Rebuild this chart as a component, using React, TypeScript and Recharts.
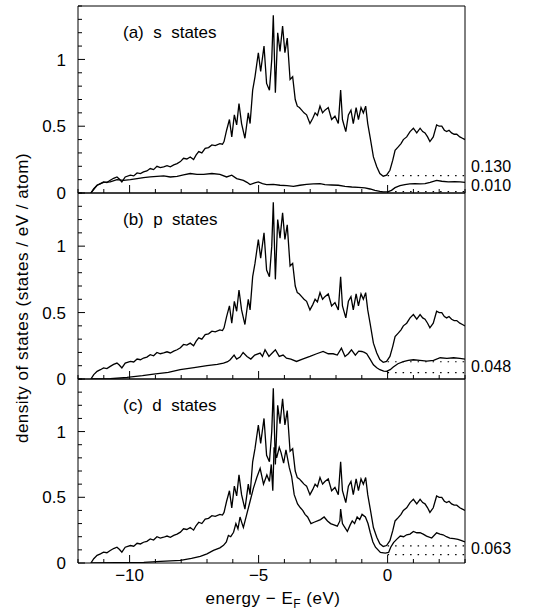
import React from 'react';
import { LineChart, Line, XAxis, YAxis, ReferenceLine } from 'recharts';

// total DOS (same curve in all three panels)
const totalE = [
  -11.5, -11.39, -11.26, -11.13, -11.01, -10.88, -10.75, -10.62, -10.49, -10.4, -10.3, -10.17, -9.97, -9.84,
  -9.71, -9.58, -9.46, -9.33, -9.2, -9.07, -8.94, -8.81, -8.68, -8.55, -8.42, -8.29, -8.16, -8.03, -7.91,
  -7.78, -7.65, -7.52, -7.42, -7.32, -7.2, -7.07, -6.94, -6.81, -6.68, -6.5, -6.4, -6.34, -6.24, -6.13,
  -6.04, -5.94, -5.85, -5.76, -5.66, -5.53, -5.4, -5.33, -5.23, -5.14, -5.01, -4.92, -4.79, -4.69, -4.58,
  -4.49, -4.43, -4.35, -4.26, -4.17, -4.07, -3.98, -3.89, -3.78, -3.68, -3.58, -3.5, -3.42, -3.33, -3.24,
  -3.14, -3.01, -2.9, -2.81, -2.72, -2.62, -2.52, -2.43, -2.3, -2.17, -2.04, -1.91, -1.82, -1.75, -1.62,
  -1.52, -1.42, -1.33, -1.22, -1.13, -1.03, -0.94, -0.85, -0.77, -0.68, -0.55, -0.42, -0.3, -0.17, -0.04,
  0.09, 0.2, 0.29, 0.42, 0.52, 0.61, 0.74, 0.87, 1.0, 1.13, 1.26, 1.36, 1.45, 1.55, 1.64, 1.77, 1.9, 2.0,
  2.1, 2.2, 2.29, 2.38, 2.48, 2.58, 2.68, 2.8, 2.9, 3.0,
];
const totalV = [
  0, 0.033, 0.058, 0.07, 0.083, 0.078, 0.095, 0.11, 0.12, 0.105, 0.083, 0.12, 0.133, 0.128,
  0.15, 0.145, 0.158, 0.165, 0.183, 0.175, 0.2, 0.19, 0.196, 0.205, 0.196, 0.21, 0.22, 0.235, 0.26,
  0.255, 0.27, 0.25, 0.285, 0.31, 0.3, 0.334, 0.34, 0.36, 0.355, 0.37, 0.365, 0.385, 0.47, 0.55,
  0.42, 0.585, 0.51, 0.67, 0.52, 0.41, 0.6, 0.52, 0.77, 0.87, 1.05, 0.91, 1.1, 0.82, 0.77,
  1.0, 1.33, 0.75, 1.2, 1.06, 1.25, 1.05, 1.16, 0.85, 0.87, 0.7, 0.65, 0.64, 0.62, 0.6,
  0.585, 0.52, 0.56, 0.6, 0.58, 0.65, 0.6, 0.62, 0.64, 0.55, 0.575, 0.52, 0.77, 0.55, 0.46,
  0.585, 0.62, 0.52, 0.64, 0.55, 0.64, 0.6, 0.65, 0.52, 0.42, 0.27, 0.196, 0.146, 0.126, 0.133,
  0.17, 0.246, 0.32, 0.347, 0.37, 0.4, 0.42, 0.46, 0.485, 0.45, 0.485, 0.46, 0.45, 0.42, 0.385, 0.42, 0.51, 0.5,
  0.5, 0.47, 0.46, 0.47, 0.45, 0.44, 0.44, 0.42, 0.41, 0.4,
];

// s projected DOS
const sE = [
  -11.5, -11.26, -11.01, -10.75, -10.49, -10.23, -9.97, -9.71, -9.46, -9.2, -8.94, -8.68, -8.42, -8.16,
  -7.91, -7.65, -7.39, -7.13, -6.81, -6.5, -6.24, -6.04, -5.85, -5.59, -5.45, -5.33, -5.15, -5.01, -4.85,
  -4.69, -4.43, -4.17, -3.9, -3.65, -3.4, -3.14, -2.88, -2.62, -2.43, -2.17, -1.91, -1.65, -1.39, -1.13,
  -0.88, -0.68, -0.49, -0.3, -0.17, 0.03, 0.15, 0.29, 0.48, 0.67, 0.86, 1.06, 1.26, 1.45, 1.65, 1.9, 2.1,
  2.35, 2.6, 2.81, 3.0,
];
const sV = [
  0, 0.058, 0.08, 0.083, 0.1, 0.095, 0.1, 0.108, 0.115, 0.12, 0.125, 0.128, 0.12, 0.125,
  0.135, 0.146, 0.14, 0.14, 0.146, 0.14, 0.12, 0.133, 0.108, 0.095, 0.08, 0.063, 0.075, 0.083, 0.07,
  0.063, 0.065, 0.058, 0.055, 0.05, 0.058, 0.065, 0.068, 0.07, 0.063, 0.06, 0.058, 0.05, 0.045, 0.042,
  0.038, 0.03, 0.02, 0.012, 0.008, 0.01, 0.02, 0.04, 0.055, 0.063, 0.068, 0.07, 0.068, 0.07, 0.08, 0.095, 0.088,
  0.083, 0.085, 0.083, 0.08,
];

// p projected DOS
const pE = [
  -11.46, -10.75, -10.1, -9.5, -9.07, -8.5, -8.04, -7.5, -7.0, -6.6, -6.36, -6.2, -6.1, -5.95, -5.85,
  -5.72, -5.6, -5.45, -5.3, -5.15, -4.94, -4.85, -4.75, -4.6, -4.5, -4.35, -4.2, -4.05, -3.92, -3.75,
  -3.53, -3.3, -3.01, -2.75, -2.5, -2.3, -2.11, -1.95, -1.79, -1.65, -1.52, -1.4, -1.25, -1.12, -1.0,
  -0.9, -0.81, -0.68, -0.55, -0.42, -0.3, -0.15, -0.04, 0.1, 0.22, 0.4, 0.61, 0.8, 1.0, 1.25, 1.52,
  1.78, 2.04, 2.3, 2.56, 2.8, 3.0,
];
const pV = [
  0, 0.002, 0.012, 0.025, 0.037, 0.05, 0.07, 0.085, 0.1, 0.11, 0.12, 0.13, 0.145, 0.18, 0.15,
  0.165, 0.2, 0.17, 0.15, 0.18, 0.195, 0.17, 0.22, 0.17, 0.19, 0.22, 0.17, 0.18, 0.157, 0.15,
  0.132, 0.15, 0.17, 0.19, 0.207, 0.19, 0.19, 0.18, 0.232, 0.17, 0.19, 0.22, 0.18, 0.21, 0.207,
  0.2, 0.19, 0.15, 0.107, 0.085, 0.07, 0.06, 0.057, 0.07, 0.09, 0.115, 0.13, 0.14, 0.145, 0.14, 0.135,
  0.14, 0.16, 0.155, 0.16, 0.155, 0.15,
];

// d projected DOS
const dE = [
  -11.5, -10.5, -9.45, -8.8, -8.03, -7.6, -7.26, -7.0, -6.75, -6.5, -6.36, -6.25, -6.17, -6.08, -5.97,
  -5.88, -5.8, -5.72, -5.64, -5.59, -5.46, -5.33, -5.2, -5.07, -4.94, -4.81, -4.68, -4.58, -4.51, -4.45,
  -4.4, -4.3, -4.2, -4.13, -4.03, -3.94, -3.81, -3.72, -3.62, -3.49, -3.38, -3.29, -3.2, -3.1, -2.97,
  -2.85, -2.72, -2.6, -2.46, -2.33, -2.21, -2.08, -1.95, -1.85, -1.82, -1.75, -1.69, -1.56, -1.45, -1.37,
  -1.28, -1.18, -1.08, -0.99, -0.86, -0.76, -0.67, -0.57, -0.47, -0.28, -0.09, 0.04, 0.12, 0.23, 0.35,
  0.49, 0.62, 0.74, 0.87, 1.0, 1.13, 1.26, 1.38, 1.51, 1.71, 1.9, 2.03, 2.15, 2.28, 2.41, 2.57, 2.73,
  2.87, 3.0,
];
const dV = [
  0, 0.002, 0.005, 0.012, 0.02, 0.035, 0.05, 0.07, 0.096, 0.115, 0.134, 0.16, 0.21, 0.2, 0.234,
  0.3, 0.26, 0.35, 0.3, 0.27, 0.37, 0.47, 0.57, 0.65, 0.72, 0.6, 0.67, 0.62, 0.75, 0.55,
  0.88, 0.8, 0.88, 0.84, 0.76, 0.86, 0.725, 0.66, 0.52, 0.45, 0.42, 0.4, 0.37, 0.35, 0.3,
  0.31, 0.32, 0.33, 0.35, 0.32, 0.3, 0.29, 0.28, 0.32, 0.41, 0.3, 0.28, 0.24, 0.29, 0.32,
  0.3, 0.35, 0.33, 0.37, 0.35, 0.3, 0.23, 0.16, 0.12, 0.08, 0.075, 0.08, 0.12, 0.155, 0.18,
  0.205, 0.2, 0.215, 0.22, 0.24, 0.23, 0.23, 0.22, 0.205, 0.19, 0.23, 0.22, 0.215, 0.2, 0.19, 0.185, 0.18,
  0.17, 0.16,
];

// values at E_F (dotted lines) and their printed labels
const efA = [0.13, 0.01];
const efB = [0.13, 0.048];
const efC = [0.13, 0.063];
const efLabelsA = ['0.130', '0.010'];
const efLabelsB = ['', '0.048'];
const efLabelsC = ['', '0.063'];

const xTicks = [-12, -11, -10, -9, -8, -7, -6, -5, -4, -3, -2, -1, 0, 1, 2, 3];
const yTicks = [0, 0.1, 0.2, 0.3, 0.4, 0.5, 0.6, 0.7, 0.8, 0.9, 1, 1.1, 1.2, 1.3, 1.4];
const panelNames = ['(a)  s  states', '(b)  p  states', '(c)  d  states'];

const FONT = '"Liberation Sans", Arial, sans-serif';
const toPts = (es: number[], vs: number[]) => es.map((e, i) => ({ e, v: vs[i] }));
const total = toPts(totalE, totalV);

const fmt = (v: number) => (v < 0 ? `\u2212${Math.abs(v)}` : `${v}`);
const majorX = (v: number) => v % 5 === 0;
const majorY = (v: number) => Math.abs(v * 2 - Math.round(v * 2)) < 1e-6;

const BottomTick = (props: any) => {
  const { x, y, payload, showLabel } = props;
  const v = payload.value;
  return (
    <g>
      <line x1={x} y1={y} x2={x} y2={y - (majorX(v) ? 8 : 4)} stroke="#000" />
      {showLabel && majorX(v) && (
        <text x={x} y={y + 18} textAnchor="middle" fontSize={17} fontFamily={FONT} fill="#000">
          {fmt(v)}
        </text>
      )}
    </g>
  );
};

const TopTick = (props: any) => {
  const { x, y, payload } = props;
  return <line x1={x} y1={y} x2={x} y2={y + (majorX(payload.value) ? 8 : 4)} stroke="#000" />;
};

const LeftTick = (props: any) => {
  const { x, y, payload } = props;
  const v = payload.value;
  return (
    <g>
      <line x1={x} y1={y} x2={x + (majorY(v) ? 7 : 4)} y2={y} stroke="#000" />
      {majorY(v) && (
        <text x={x - 12} y={y} dy="0.36em" textAnchor="end" fontSize={17} fontFamily={FONT} fill="#000">
          {v}
        </text>
      )}
    </g>
  );
};

const RightTick = (props: any) => {
  const { x, y, payload } = props;
  return <line x1={x} y1={y} x2={x - (majorY(payload.value) ? 7 : 4)} y2={y} stroke="#000" />;
};

const labelDy = [-9, -6];

const Panel = ({ top, height, mt, mb, partial, ef, efLabels, last }: any) => (
  <div style={{ position: 'absolute', left: 0, top }}>
    <LineChart width={533} height={height} margin={{ top: mt - 1, right: 67, bottom: mb - 1, left: 77 }}>
      <XAxis
        dataKey="e"
        type="number"
        domain={[-12, 3]}
        allowDataOverflow
        ticks={xTicks}
        interval={0}
        height={1}
        tickSize={0}
        tickMargin={0}
        tickLine={false}
        axisLine={{ stroke: '#000' }}
        tick={<BottomTick showLabel={last} />}
      />
      <XAxis
        xAxisId="t"
        orientation="top"
        type="number"
        domain={[-12, 3]}
        ticks={xTicks}
        interval={0}
        height={1}
        tickSize={0}
        tickMargin={0}
        tickLine={false}
        axisLine={{ stroke: '#000' }}
        tick={<TopTick />}
      />
      <YAxis
        type="number"
        domain={[0, 1.4]}
        allowDataOverflow
        ticks={yTicks}
        interval={0}
        width={1}
        tickSize={0}
        tickMargin={0}
        tickLine={false}
        axisLine={{ stroke: '#000' }}
        tick={<LeftTick />}
      />
      <YAxis
        yAxisId="r"
        orientation="right"
        type="number"
        domain={[0, 1.4]}
        ticks={yTicks}
        interval={0}
        width={1}
        tickSize={0}
        tickMargin={0}
        tickLine={false}
        axisLine={{ stroke: '#000' }}
        tick={<RightTick />}
      />
      {ef.map((lv: number, i: number) => (
        <ReferenceLine
          key={i}
          segment={[{ x: 0, y: lv }, { x: 3, y: lv }]}
          stroke="#000"
          strokeWidth={1.2}
          strokeDasharray="1.5 6"
          label={
            efLabels[i]
              ? { value: efLabels[i], position: 'right', offset: 6, dy: labelDy[i], fill: '#000', fontSize: 16, fontFamily: FONT }
              : undefined
          }
        />
      ))}
      <Line data={total} dataKey="v" type="linear" dot={false} stroke="#000" strokeWidth={1.3} isAnimationActive={false} />
      <Line data={partial} dataKey="v" type="linear" dot={false} stroke="#000" strokeWidth={1.3} isAnimationActive={false} />
    </LineChart>
  </div>
);

export default function App() {
  return (
    <div style={{ position: 'absolute', left: 0, top: 0, width: 533, height: 612, background: '#fff' }}>
      <Panel top={0} height={203} mt={6} mb={10} partial={toPts(sE, sV)} ef={efA} efLabels={efLabelsA} />
      <Panel top={183} height={206} mt={10} mb={10} partial={toPts(pE, pV)} ef={efB} efLabels={efLabelsB} />
      <Panel top={369} height={243} mt={10} mb={49} partial={toPts(dE, dV)} ef={efC} efLabels={efLabelsC} last />
      <svg width={533} height={612} style={{ position: 'absolute', left: 0, top: 0, pointerEvents: 'none' }}>
        <g fontFamily={FONT} fontSize={17} fill="#000">
          {panelNames.map((n, i) => (
            <text key={n} x={123} y={[38, 225, 411][i]} xmlSpace="preserve" style={{ whiteSpace: 'pre' }}>
              {n}
            </text>
          ))}
          <text transform="translate(28, 298) rotate(-90)" textAnchor="middle" letterSpacing={0.5}>
            density of states (states / eV / atom)
          </text>
          <text x={273} y={604} textAnchor="middle" letterSpacing={0.5}>
            energy {'\u2212'} E<tspan fontSize={12} dy={4}>F</tspan>
            <tspan dy={-4}> (eV)</tspan>
          </text>
        </g>
      </svg>
    </div>
  );
}
